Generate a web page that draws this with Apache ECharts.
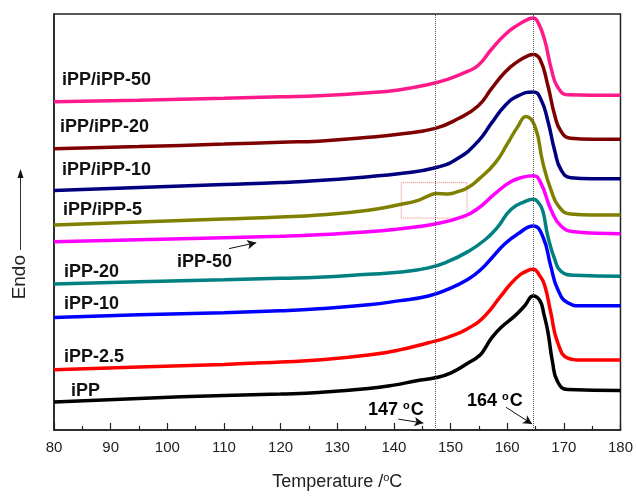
<!DOCTYPE html>
<html>
<head>
<meta charset="utf-8">
<script src="https://cdn.jsdelivr.net/npm/echarts@6/dist/echarts.min.js"></script>
<style>
  html, body { margin: 0; padding: 0; background: #fff; }
  #main { width: 636px; height: 496px; }
</style>
</head>
<body>
<div id="main"></div>
<script>
// DSC heating curves (arbitrary heat-flow units, curves offset)
var xTicks = [80, 90, 100, 110, 120, 130, 140, 150, 160, 170, 180];

var blend50 = [[80,333],[95,334.5],[110,336.5],[120,338],[126.7,339],[135.5,342],[140.8,345],[146.1,350.5],[149.6,356],[153.1,364],[154.9,370],[157.2,386],[159.6,401],[161.9,411],[163.8,417],[164.6,418],[165.4,414],[166.6,396],[167.8,366],[168.9,348],[170.7,340],[175,339.5],[180,339.5]];
var blend20 = [[80,285.3],[95,287.5],[110,290],[120,292],[126.7,293],[135.5,297],[140.8,300],[147.3,306],[151.4,316],[154.9,329],[157.2,346],[159.6,363],[161.9,374],[163.8,380],[164.6,381],[165.8,376],[167.2,349],[168.4,319],[169.5,303],[171.2,296],[175,295],[180,295]];
var blend10 = [[80,243],[95,246],[110,249],[120,251],[126.7,253],[135.5,257],[140.8,260],[147.3,266],[151.4,276],[154.9,293],[157.2,311],[159.6,329],[161.9,339],[164.6,343],[165.9,336],[167.2,313],[168.4,283],[169.5,264],[171.2,256],[175,255],[180,255]];
var blend5 = [[80,208],[95,211],[110,214],[120,216],[126.7,218],[135.5,223],[141.3,229],[144.3,233],[146.1,237.5],[147.6,240],[149.6,239.5],[151.4,242],[153.1,246],[154.9,254],[157.9,271],[160.1,291],[161.9,308],[163.3,318],[164.9,308],[166.3,271],[167.7,244],[169.2,226],[171.2,219],[175,218],[180,218]];
var ipp50 = [[80,191],[95,193],[110,195],[120,196.5],[126.7,198],[135.5,201],[140.8,204],[147.3,209],[151.9,216],[154.9,225],[157.9,240],[160.7,252],[162.8,256.5],[164.6,258],[165.9,251],[167.7,224],[169.5,207],[171.9,201],[176,199.5],[180,199]];
var ipp20 = [[80,148],[95,150.5],[110,152.5],[120,154],[126.7,155],[135.5,158],[140.8,160],[146.1,164.5],[149.6,171],[153.1,181],[156.1,193],[158.2,205],[160.7,224],[163.2,232],[164.6,234],[165.6,230],[166.3,222],[167.2,196],[168.4,173],[169.5,161],[171.9,157],[180,156]];
var ipp10 = [[80,114],[95,117],[110,119],[120,121],[126.7,123],[135.5,127],[140.8,131],[146.1,136],[149.6,143],[153.1,153],[155.4,163],[157.2,174],[159.6,189],[161.9,199],[164.6,207],[166.3,196],[167.7,166],[168.9,143],[170.7,129],[173,126],[180,126]];
var ipp25 = [[80,61],[95,64],[110,66.5],[120,69],[126.7,71],[135.5,76],[140.8,81],[146.1,88.5],[149.6,94.3],[153.1,103],[156.1,116],[158.9,136],[161.4,153],[163.7,162],[164.6,163],[165.8,156],[166.6,147],[167.7,119],[168.9,89],[170.7,73],[173,71],[180,71]];
var ipp = [[80,28.3],[95,32],[110,35],[120,36.5],[126.7,38],[135.5,42],[140,45.5],[144,50],[147.3,53],[150.1,58],[153.1,68],[155.2,76],[156.1,83],[157.2,93],[158.9,104],[161.4,116],[163.1,126],[164.6,136],[165.8,131],[166.5,117],[167.2,99],[168,69],[168.9,49],[170.7,41],[180,40]];

var names = ['iPP/iPP-50', 'iPP/iPP-20', 'iPP/iPP-10', 'iPP/iPP-5', 'iPP-50', 'iPP-20', 'iPP-10', 'iPP-2.5', 'iPP'];
var curves = [blend50, blend20, blend10, blend5, ipp50, ipp20, ipp10, ipp25, ipp];
var colors = ['#ff1a8c', '#7f0000', '#00007f', '#808000', '#ff00ff', '#008080', '#0000ff', '#ff0000', '#000000'];

var markT = [147.3, 164.6];           // dotted guide lines
var boxT = [141.3, 152.9], boxY = [215, 251];   // dotted box on iPP/iPP-5 shoulder
var arrows = [
  [[140.8, 11], [145.2, 7]],          // 147 °C
  [[159.8, 23], [164.4, 6]],          // 164 °C
  [[110.9, 184], [115.7, 190]]        // iPP-50
];

var chart = echarts.init(document.getElementById('main'));

var series = curves.map(function (d, i) {
  return {
    name: names[i],
    type: 'line',
    data: d,
    smooth: 0.5,
    showSymbol: false,
    lineStyle: { color: colors[i], width: 3.5 },
    z: 3
  };
});

// guides, box and arrows
series.push({
  type: 'line',
  data: [],
  silent: true,
  markLine: {
    silent: true,
    symbol: 'none',
    label: { show: false },
    lineStyle: { color: '#555', type: 'dotted', width: 1 },
    data: markT.map(function (t) { return { xAxis: t }; })
  },
  markArea: {
    silent: true,
    itemStyle: { color: 'rgba(0,0,0,0)', borderColor: '#f08080', borderWidth: 1, borderType: 'dotted' },
    data: [[{ coord: [boxT[0], boxY[0]] }, { coord: [boxT[1], boxY[1]] }]]
  }
});
series.push({
  type: 'line',
  data: [],
  silent: true,
  markLine: {
    silent: true,
    symbol: ['none', 'arrow'],
    symbolSize: [7, 9],
    label: { show: false },
    lineStyle: { color: '#111', type: 'solid', width: 1 },
    data: arrows.map(function (a) { return [{ coord: a[0] }, { coord: a[1] }]; })
  }
});

var lblFont = { fontFamily: 'Liberation Sans, Arial, sans-serif', fontWeight: 'bold', fontSize: 18, fill: '#111' };
function lbl(txt, x, y) {
  return { type: 'text', left: x, top: y - 10, style: Object.assign({ text: txt }, lblFont) };
}
var supRich = {
  n: { fontFamily: 'Liberation Sans, Arial, sans-serif', fontWeight: 'bold', fontSize: 18, color: '#111', lineHeight: 20 },
  s: { fontFamily: 'Liberation Sans, Arial, sans-serif', fontWeight: 'bold', fontSize: 11, color: '#111', verticalAlign: 'top', lineHeight: 20, padding: [0, 1, 0, 0] }
};

var option = {
  animation: false,
  grid: { left: 54, right: 13, top: 14, bottom: 60, show: true, borderColor: '#222', borderWidth: 1.5, backgroundColor: 'transparent' },
  xAxis: {
    type: 'value',
    min: xTicks[0],
    max: xTicks[xTicks.length - 1],
    interval: 10,
    name: '{a|Temperature /}{s|o}{a|C}',
    nameLocation: 'middle',
    nameGap: 42,
    nameTextStyle: {
      rich: {
        a: { fontFamily: 'Liberation Sans, Arial, sans-serif', fontSize: 18, color: '#222', lineHeight: 20 },
        s: { fontFamily: 'Liberation Sans, Arial, sans-serif', fontSize: 11, color: '#222', verticalAlign: 'top', lineHeight: 20 }
      }
    },
    axisLine: { lineStyle: { color: '#222', width: 1.5 } },
    axisTick: { inside: true, length: 7, lineStyle: { color: '#222', width: 1.2 } },
    minorTick: { show: true, splitNumber: 2, length: 4, lineStyle: { color: '#222', width: 1.2 } },
    axisLabel: { fontFamily: 'Liberation Sans, Arial, sans-serif', fontSize: 15, color: '#222', margin: 10 },
    splitLine: { show: false }
  },
  yAxis: {
    type: 'value',
    min: 0,
    max: 422,
    axisLine: { show: true, lineStyle: { color: '#222', width: 1.5 } },
    axisTick: { show: false },
    axisLabel: { show: false },
    splitLine: { show: false }
  },
  series: series,
  graphic: [
    lbl('iPP/iPP-50', 62, 81),
    lbl('iPP/iPP-20', 60, 128),
    lbl('iPP/iPP-10', 62, 171),
    lbl('iPP/iPP-5', 63, 211),
    lbl('iPP-50', 177, 263),
    lbl('iPP-20', 64, 273),
    lbl('iPP-10', 64, 305),
    lbl('iPP-2.5', 64, 358),
    lbl('iPP', 71, 392),
    { type: 'text', left: 368, top: 400, style: { text: '{n|147 }{s|o}{n|C}', rich: supRich } },
    { type: 'text', left: 467, top: 391, style: { text: '{n|164 }{s|o}{n|C}', rich: supRich } },
    // Endo label and arrow
    { type: 'text', left: 10, top: 255, rotation: Math.PI / 2, style: { text: 'Endo', fontFamily: 'Liberation Sans, Arial, sans-serif', fontSize: 19, fill: '#222' } },
    { type: 'line', shape: { x1: 20.5, y1: 250, x2: 20.5, y2: 176 }, style: { stroke: '#333', lineWidth: 1 } },
    { type: 'polygon', shape: { points: [[20.5, 169], [17.5, 178], [23.5, 178]] }, style: { fill: '#111' } }
  ]
};

chart.setOption(option);
</script>
</body>
</html>
